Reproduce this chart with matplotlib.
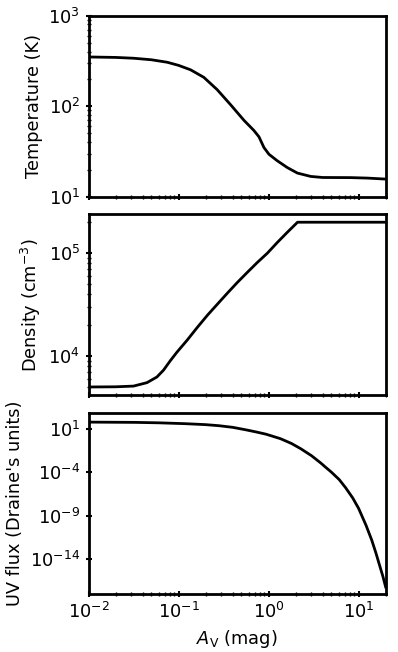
import numpy as np
import matplotlib
matplotlib.use('Agg')
from matplotlib import pyplot as plt

# temperature vs Av
av_T = [0.01, 0.02, 0.0316, 0.05, 0.075, 0.1, 0.136, 0.191, 0.269, 0.378, 0.532, 0.687, 0.782,
        0.889, 1.01, 1.25, 1.62, 2.09, 2.94, 4.0, 8.2, 12.6, 20.0]
temp = [349, 345, 338, 325, 305, 282, 252, 208, 152, 104, 70, 54, 46,
        35, 29.5, 25, 21, 18.3, 16.8, 16.35, 16.3, 16.1, 15.7]

# density vs Av
av_n = [0.01, 0.02, 0.0316, 0.0446, 0.0575, 0.0682, 0.081, 0.096, 0.125, 0.161, 0.21, 0.269,
        0.35, 0.449, 0.58, 0.75, 0.97, 1.25, 1.62, 2.1, 20.0]
dens = [5000, 5020, 5100, 5510, 6250, 7300, 9000, 10900, 14300, 18900, 25000, 31800,
        41000, 51800, 65000, 81200, 100000, 127000, 160000, 200000, 200000]

# UV flux vs Av (log10 values)
av_uv = [0.01, 0.033, 0.06, 0.119, 0.2, 0.28, 0.4, 0.556, 0.72, 0.93, 1.1, 1.36, 1.8, 2.28,
         3.0, 3.81, 4.33, 5.0, 6.1, 7.2, 8.6, 10.0, 12.1, 14.0, 15.6, 17.0, 18.6, 20.0]
log_uv = [1.76, 1.73, 1.68, 1.58, 1.47, 1.35, 1.16, 0.88, 0.64, 0.38, 0.15, -0.15, -0.7, -1.30,
          -2.1, -2.95, -3.45, -4.0, -4.85, -5.8, -6.95, -8.15, -10.1, -11.8, -13.3, -14.6, -15.95, -17.2]
uv = [10 ** v for v in log_uv]

plt.rcParams['font.size'] = 12.8
plt.rcParams['axes.linewidth'] = 2

fig, axes = plt.subplots(3, 1, figsize=(3.98, 6.52), dpi=100, sharex=True)
fig.subplots_adjust(left=0.2224, right=0.969, top=0.9762, bottom=0.089, hspace=0.095)

axes[0].plot(av_T, temp, color='black', lw=2)
axes[0].set_ylabel('Temperature (K)')
axes[0].set_yscale('log')
axes[0].set_ylim(10, 1000)

axes[1].plot(av_n, dens, color='black', lw=2)
axes[1].set_ylabel('Density (cm$^{-3}$)')
axes[1].set_yscale('log')
axes[1].set_ylim(4.14e3, 2.4e5)

axes[2].plot(av_uv, uv, color='black', lw=2)
axes[2].set_ylabel("UV flux (Draine's units)")
axes[2].set_yscale('log')
axes[2].set_ylim(1e-18, 10 ** 2.85)
axes[2].set_yticks([1e1, 1e-4, 1e-9, 1e-14])
axes[2].set_xlabel('$A_{\\rm V}$ (mag)')

for ax in axes:
    ax.set_xscale('log')
    ax.set_xlim(0.01, 20)
    ax.tick_params(which='major', direction='inout', length=5, width=1.5)
    ax.tick_params(which='minor', direction='inout', length=3, width=1)

plt.savefig('out.png', dpi=100)
